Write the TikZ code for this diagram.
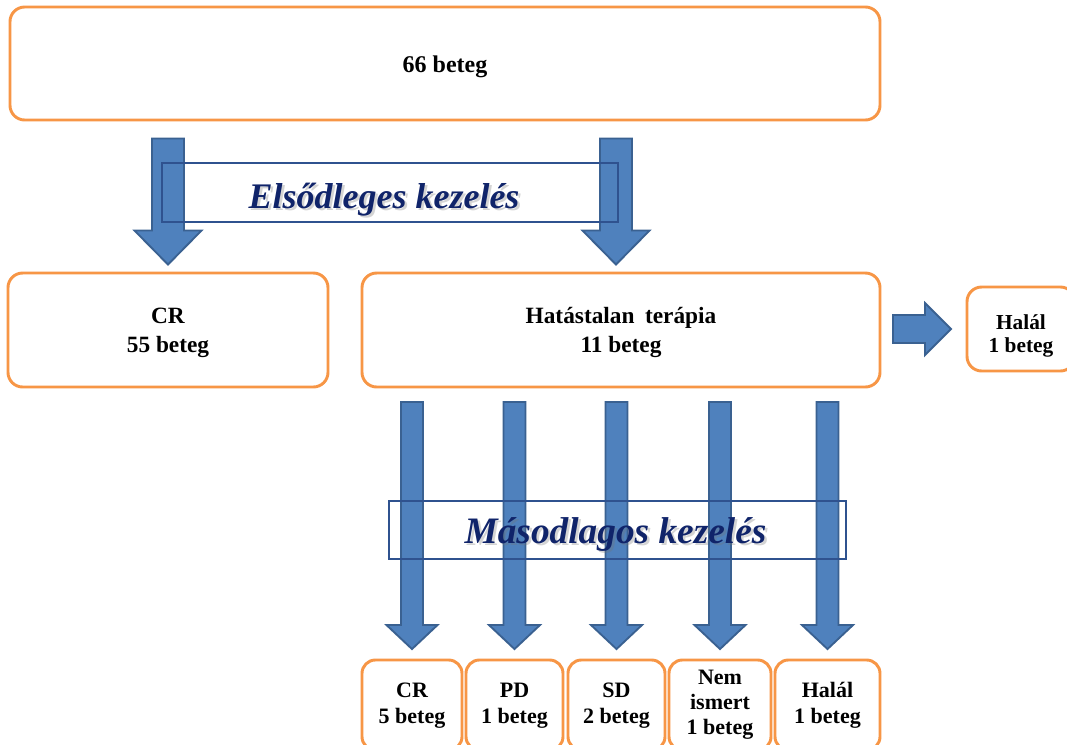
\documentclass[tikz,border=0pt]{standalone}
\usepackage{fontspec}
\setmainfont{Liberation Serif}
\usetikzlibrary{calc}
\definecolor{boxorange}{HTML}{F79646}
\definecolor{arrowfill}{HTML}{4F81BD}
\definecolor{arrowline}{HTML}{3A6191}
\definecolor{labelline}{HTML}{2F528F}
\definecolor{labeltext}{HTML}{10246A}
\newcommand\vstrut[1]{\rule{0pt}{#1}}
% down block arrow: start, end, half shaft, half head, head length
\newcommand\downblock[5]{%
  \draw[blockarrow] ($(#1)+(-#3,0)$) -- ($(#1)+(#3,0)$) -- ($(#2)+(#3,-#5)$) -- ($(#2)+(#4,-#5)$) -- (#2) -- ($(#2)+(-#4,-#5)$) -- ($(#2)+(-#3,-#5)$) -- cycle;}
% right block arrow: start, end, half shaft, half head, head length
\newcommand\rightblock[5]{%
  \draw[blockarrow] ($(#1)+(0,-#3)$) -- ($(#2)+(-#5,-#3)$) -- ($(#2)+(-#5,-#4)$) -- (#2) -- ($(#2)+(-#5,#4)$) -- ($(#2)+(-#5,#3)$) -- ($(#1)+(0,#3)$) -- cycle;}
\begin{document}
\begin{tikzpicture}[x=0.75pt,y=-0.75pt,
  obox/.style={draw=boxorange, line width=2.2pt, rounded corners=11pt, inner sep=0pt, align=center,
    font=\bfseries\fontsize{17.5}{21.75}\selectfont},
  smallbox/.style={obox, font=\bfseries\fontsize{16}{17.25}\selectfont},
  botbox/.style={obox, rounded corners=10pt, minimum height=67.5pt, font=\bfseries\fontsize{16.5}{19.5}\selectfont},
  blockarrow/.style={fill=arrowfill, draw=arrowline, line width=1.4pt, line join=miter},
  labelbox/.style={draw=labelline, line width=0.8pt, inner sep=0pt},
  labeltxt/.style={text=labeltext, inner sep=0pt, anchor=base},
  labelshadow/.style={text=black!55, opacity=0.3, inner sep=0pt, anchor=base}
  ]
\useasboundingbox (0,0) rectangle (1067,744);
\clip (0,0) rectangle (1067,744);
\fill[white] (0,0) rectangle (1067,744);

% boxes
\node[obox, font=\bfseries\fontsize{18}{21.75}\selectfont, minimum width=652.5pt, minimum height=84.75pt] (t) at (445,63.5) {\vstrut{18pt}66 beteg};
\node[obox, minimum width=240pt, minimum height=85.5pt] (cr) at (168,330) {\vstrut{16.5pt}CR\\55 beteg};
\node[obox, minimum width=388.5pt, minimum height=85.5pt] (hat) at (621,330) {\vstrut{16.5pt}Hatástalan\hspace{0.45em}terápia\\11 beteg};
\node[smallbox, minimum width=81pt, minimum height=63pt] (halal) at (1021,329) {\vstrut{22.2pt}Halál\\1 beteg};
\node[botbox, minimum width=75pt] (b1) at (412,705) {\vstrut{12.6pt}CR\\5 beteg};
\node[botbox, minimum width=72.75pt] (b2) at (514.5,705) {\vstrut{12.6pt}PD\\1 beteg};
\node[botbox, minimum width=72.75pt] (b3) at (616.5,705) {\vstrut{12.6pt}SD\\2 beteg};
\node[botbox, minimum width=76.5pt, font=\bfseries\fontsize{16.5}{18.75}\selectfont] (b4) at (720,705) {Nem\\ismert\\1 beteg};
\node[botbox, minimum width=78.75pt] (b5) at (827.5,705) {\vstrut{12.6pt}Halál\\1 beteg};

% top arrows
\coordinate (a1s) at ($(t.south -| cr.center)+(0,17)$);
\coordinate (a1e) at ($(cr.north)+(0,-7)$);
\coordinate (a2s) at ($(t.south -| hat.center)+(-5,17)$);
\coordinate (a2e) at ($(hat.north)+(-5,-7)$);
\downblock{a1s}{a1e}{16}{33.5}{34}
\downblock{a2s}{a2e}{16}{33.5}{34}

% right arrow
\coordinate (rs) at ($(hat.east |- halal.center)+(11.5,0)$);
\coordinate (re) at ($(halal.west)+(-14.5,0)$);
\rightblock{rs}{re}{14}{26}{26}

% bottom arrows
\foreach \k in {b1,b2,b3,b4,b5}{
  \coordinate (\k s) at ($(hat.south -| \k.center)+(0,13.5)$);
  \coordinate (\k e) at ($(\k.north)+(0,-9.5)$);
  \downblock{\k s}{\k e}{11}{25.5}{24}
}

% label boxes
\node[labelbox, minimum width=342pt, minimum height=44.25pt] (lab1box) at (390,192.5) {};
\node[labelbox, minimum width=342.75pt, minimum height=43.5pt] (lab2box) at (617.5,530) {};
\node[labelshadow, font=\bfseries\itshape\fontsize{27}{30}\selectfont] (lab1s) at (386.5,210.5) {Elsődleges kezelés};
\node[labeltxt, font=\bfseries\itshape\fontsize{27}{30}\selectfont] (lab1) at (384,208) {Elsődleges kezelés};
\node[labelshadow, font=\bfseries\itshape\fontsize{28}{30}\selectfont] (lab2s) at (618,545.5) {Másodlagos kezelés};
\node[labeltxt, font=\bfseries\itshape\fontsize{28}{30}\selectfont] (lab2) at (615.5,543) {Másodlagos kezelés};
\end{tikzpicture}
\end{document}
